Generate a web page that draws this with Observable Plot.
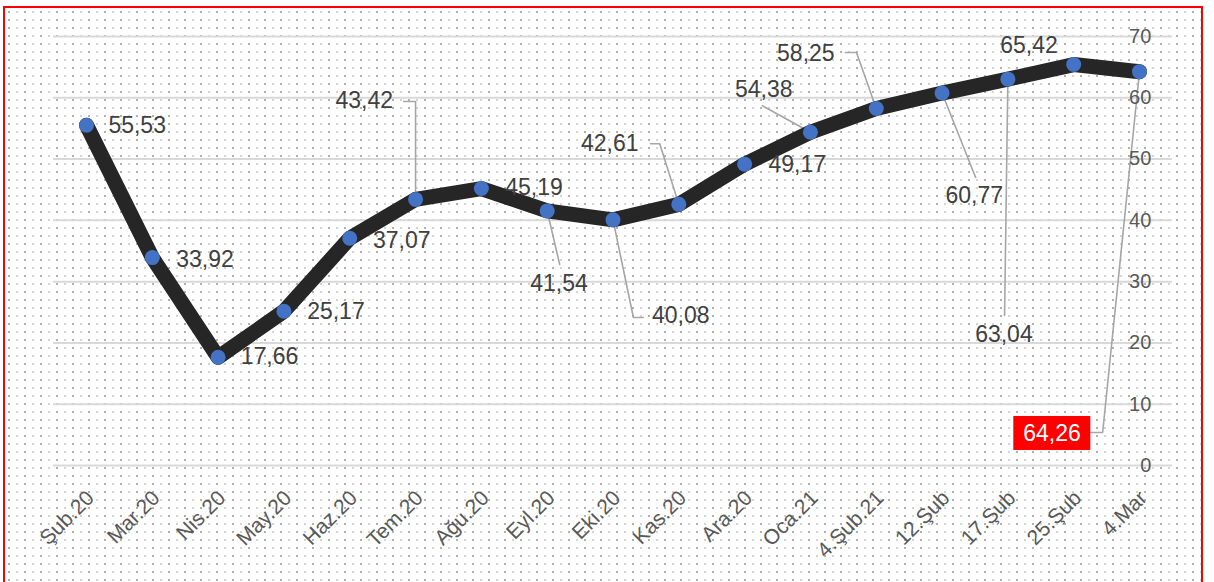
<!DOCTYPE html>
<html><head><meta charset="utf-8">
<script src="https://cdn.jsdelivr.net/npm/d3@7"></script>
<script src="https://cdn.jsdelivr.net/npm/@observablehq/plot@0.6"></script>
<style>
body{margin:0;background:#fff;overflow:hidden;}
#frame{position:absolute;left:3px;top:6px;width:1196px;height:600px;border:2px solid #ff0000;
background-color:#fff;
background-image:radial-gradient(circle at 4px 4px,#8c8c8c 0.55px,rgba(255,255,255,0) 1.05px),
                 radial-gradient(circle at 12px 4px,#b4b4b4 0.5px,rgba(255,255,255,0) 1.0px);
background-size:16px 8px,16px 8px;}
#frame svg{display:block;background:transparent;}
</style>
</head><body>
<div id="frame"></div>
<script>
// ---- data ----
const categories = ["Şub.20","Mar.20","Nis.20","May.20","Haz.20","Tem.20","Ağu.20","Eyl.20","Eki.20","Kas.20","Ara.20","Oca.21","4.Şub.21","12.Şub","17.Şub","25.Şub","4.Mar"];
const values = [55.53,33.92,17.66,25.17,37.07,43.42,45.19,41.54,40.08,42.61,49.17,54.38,58.25,60.77,63.04,65.42,64.26];
const yTicks = [0,10,20,30,40,50,60,70];

// ---- label layout (data coordinates: category index, value) ----
const labelX = [0.77,1.80,2.78,3.79,4.79,4.22,6.80,7.18,9.03,7.95,10.80,10.29,10.93,13.49,13.94,14.32,14.67];
const labelY = [55.5,33.6,17.8,25.1,36.7,59.5,45.4,29.7,24.5,52.5,49.1,61.3,67.2,44.0,21.4,68.5,5.2];
const leaders = [
  {id:5,  pts:[[4.82,59.4],[5,59.4],[5,43.42]]},
  {id:7,  pts:[[7,41.54],[7.19,32.8]]},
  {id:8,  pts:[[8,40.08],[8.31,24.15],[8.46,24.15]]},
  {id:9,  pts:[[8.57,52.5],[8.71,52.5],[9,42.61]]},
  {id:11, pts:[[10.27,58.7],[11,54.38]]},
  {id:12, pts:[[11.53,67.4],[11.70,67.4],[12,58.25]]},
  {id:13, pts:[[13,60.77],[13.51,47.0]]},
  {id:14, pts:[[14,63.04],[13.95,24.5]]},
  {id:16, pts:[[15.26,5.38],[15.44,5.38],[16,64.26]]}
];
const highlight = 16;
const highlightBox = {x1:14.09, x2:15.26, y1:2.45, y2:8.0};

const idx = d3.range(categories.length);
const fmt = v => v.toFixed(2).replace(".", ",");
const leaderRows = leaders.flatMap(l => l.pts.map(p => ({id:l.id, x:p[0], y:p[1]})));

const chart = Plot.plot({
  width: 1196,
  height: 574,
  marginLeft: 81,
  marginRight: 62,
  marginTop: 28,
  marginBottom: 117,
  style: {fontFamily: "'Liberation Sans', Arial, sans-serif", background: "transparent", overflow: "visible"},
  x: {domain: [0, categories.length - 1], axis: null},
  y: {domain: [0, 70], axis: null},
  marks: [
    Plot.ruleY(yTicks, {y: d => d, x1: () => -0.5, x2: () => 16.5, stroke: "#d9d9d9", strokeWidth: 2}),
    Plot.line(leaderRows, {x: "x", y: "y", z: "id", stroke: "#a6a6a6", strokeWidth: 1.6}),
    Plot.line(idx, {x: i => i, y: i => values[i], stroke: "#262626", strokeWidth: 15, strokeLinejoin: "round", strokeLinecap: "round"}),
    Plot.dot(idx, {x: i => i, y: i => values[i], r: 7.5, fill: "#4472c4", stroke: null}),
    Plot.rect([highlightBox], {x1: "x1", x2: "x2", y1: "y1", y2: "y2", fill: "#ff0000"}),
    Plot.text(idx, {x: i => labelX[i], y: i => labelY[i], text: i => fmt(values[i]),
      fill: i => i === highlight ? "#ffffff" : "#404040", fontSize: 23, textAnchor: "middle"}),
    Plot.text(yTicks, {x: () => 16.18, y: d => d, text: d => String(d), textAnchor: "end", fontSize: 20, fill: "#595959"}),
    Plot.text(idx, {x: i => i, y: () => 0, text: i => categories[i], rotate: -45, textAnchor: "end",
      dx: 4, dy: 29, fontSize: 21, fill: "#595959"})
  ]
});
document.getElementById("frame").appendChild(chart);
</script>
</body></html>
